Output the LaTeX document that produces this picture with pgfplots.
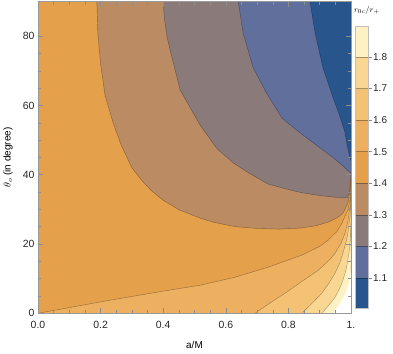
\documentclass[border=0pt]{standalone}
\usepackage{pgfplots}
\pgfplotsset{compat=1.18}
\usepackage{pgfplotstable}
\usepackage{fontspec}
\setmainfont{Liberation Sans}

% contour fill colours, lowest level first
\definecolor{lvA}{RGB}{40,86,140}
\definecolor{lvB}{RGB}{96,111,155}
\definecolor{lvC}{RGB}{138,122,122}
\definecolor{lvD}{RGB}{187,140,100}
\definecolor{lvE}{RGB}{229,160,76}
\definecolor{lvF}{RGB}{237,175,96}
\definecolor{lvG}{RGB}{244,194,117}
\definecolor{lvH}{RGB}{249,214,145}
\definecolor{lvI}{RGB}{254,242,196}

% regions below a level (closed with the top right corner)
\pgfplotstableread{
a th
0.188 90
0.191 81
0.200 72
0.214 63
0.240 55
0.266 48.5
0.300 42.0
0.330 38.5
0.360 35.6
0.400 32.6
0.450 29.9
0.520 27.4
0.560 26.3
0.630 25.0
0.700 24.5
0.770 24.3
0.840 24.6
0.890 25.3
0.930 26.4
0.960 27.8
0.975 29.0
0.990 31.8
0.997 35.5
1.000 39
1.000 90
}\below

\pgfplotstableread{
a th
0.400 90
0.404 85
0.412 80
0.422 76
0.454 64.5
0.518 54.3
0.572 47.5
0.623 43.5
0.668 40.8
0.735 37.3
0.805 35.6
0.843 34.8
0.900 34.0
0.949 33.5
0.975 33.3
0.990 33.5
0.996 36
1.000 40
1.000 90
}\belowC

\pgfplotstableread{
a th
0.640 90
0.655 81
0.687 71
0.730 63.6
0.780 56.3
0.830 52.6
0.875 49.5
0.942 45.0
0.975 42.5
0.990 41.2
1.000 40.5
1.000 90
}\belowB

\pgfplotstableread{
a th
0.869 90
0.885 81
0.910 71
0.942 62.4
0.962 57.5
0.980 52.5
0.990 47.5
0.997 45
1.000 44
1.000 90
}\belowA

% regions above a level (closed with the bottom right corner)
\pgfplotstableread{
a th
0.000 0
0.200 3.3
0.400 6.4
0.518 8.1
0.629 10.4
0.735 13.3
0.843 16.8
0.900 19.3
0.927 21.1
0.955 23.6
0.971 26.0
0.990 29.8
0.997 33
1.000 38
1.000 0
}\aboveF

\pgfplotstableread{
a th
0.693 0
0.740 2.9
0.789 5.8
0.840 9.0
0.895 12.4
0.930 15.3
0.949 17.3
0.968 20.2
0.981 23.1
0.990 26.5
0.997 31
1.000 37.5
1.000 0
}\aboveG

\pgfplotstableread{
a th
0.843 0
0.877 3.0
0.907 5.8
0.930 8.8
0.949 11.6
0.964 14.5
0.974 17.3
0.984 20.5
0.990 23
0.997 28
1.000 36
1.000 0
}\aboveH

\pgfplotstableread{
a th
0.907 0
0.930 2.4
0.949 4.6
0.964 7.2
0.974 9.5
0.984 12.5
0.990 15.3
0.996 19
1.000 26
1.000 0
}\aboveI

% blank corner (outside the plotted range)
\pgfplotstableread{
a th
0.942 0
0.958 2.0
0.971 3.8
0.982 5.6
0.990 7.5
0.996 9.8
1.000 12.4
1.000 0
}\blank

\pgfplotsset{cline/.style={draw=black, draw opacity=0.33, line width=0.45bp}}

\begin{document}
\begin{tikzpicture}
\path[use as bounding box] (-38bp,-40.7bp) rectangle (355bp,313.3bp);
\begin{axis}[
    scale only axis,
    width=313bp, height=311.8bp,
    xmin=0, xmax=1, ymin=0, ymax=90,
    xtick={0,0.2,0.4,0.6,0.8,1},
    xticklabels={0.0,0.2,0.4,0.6,0.8,1.},
    ytick={0,20,40,60,80},
    minor x tick num=3, minor y tick num=3,
    tick align=inside,
    major tick length=5bp, minor tick length=3bp,
    every tick/.style={black!45, line width=0.5bp},
    axis line style={black!40, line width=0.6bp},
    axis on top,
    no markers,
    /pgf/number format/assume math mode=true,
    tick label style={font=\fontsize{10.5}{12}\selectfont, text=black!85},
    xticklabel style={yshift=-4bp},
    label style={font=\fontsize{10.5}{12}\selectfont, text=black!85},
    xlabel={a/M},
    ylabel={$\theta_o$ (in degree)},
    every axis x label/.style={at={(axis description cs:0.5,0)}, anchor=center, yshift=-31.7bp},
    every axis y label/.style={at={(axis description cs:0,0.5)}, rotate=90, anchor=center, yshift=30bp},
]
\addplot[fill=lvE, draw=none] coordinates {(0,0) (1,0) (1,90) (0,90)};
\addplot[fill=lvD, cline] table {\below};
\addplot[fill=lvC, cline] table {\belowC};
\addplot[fill=lvB, cline] table {\belowB};
\addplot[fill=lvA, cline] table {\belowA};
\addplot[fill=lvF, cline] table {\aboveF};
\addplot[fill=lvG, cline] table {\aboveG};
\addplot[fill=lvH, cline] table {\aboveH};
\addplot[fill=lvI, cline] table {\aboveI};
\addplot[fill=white, draw=none] table {\blank};
\end{axis}

% colour bar
\begin{axis}[
    at={(317bp,5.3bp)}, anchor=south west,
    scale only axis,
    width=13.5bp, height=282bp,
    xmin=0, xmax=1, ymin=1.005, ymax=1.898,
    xtick=\empty,
    ytick={1.1,1.2,1.3,1.4,1.5,1.6,1.7,1.8},
    ytick pos=right, yticklabel pos=right,
    tick align=outside, major tick length=3bp,
    every tick/.style={black!45, line width=0.5bp},
    axis line style={black!25, line width=0.5bp},
    axis on top,
    no markers,
    /pgf/number format/assume math mode=true,
    /pgf/number format/fixed, /pgf/number format/precision=1,
    /pgf/number format/fixed zerofill,
    yticklabel style={font=\fontsize{10}{12}\selectfont, text=black!85, inner sep=1.5bp},
    title={$r_{0c}/r_+$},
    title style={at={(0.88,1)}, anchor=south, yshift=5bp, inner sep=0pt, font=\fontsize{8.5}{10}\selectfont},
]
\addplot[fill=lvA, draw=none] coordinates {(0,1.005) (1,1.005) (1,1.1) (0,1.1)};
\addplot[fill=lvB, draw=none] coordinates {(0,1.1) (1,1.1) (1,1.2) (0,1.2)};
\addplot[fill=lvC, draw=none] coordinates {(0,1.2) (1,1.2) (1,1.3) (0,1.3)};
\addplot[fill=lvD, draw=none] coordinates {(0,1.3) (1,1.3) (1,1.4) (0,1.4)};
\addplot[fill=lvE, draw=none] coordinates {(0,1.4) (1,1.4) (1,1.5) (0,1.5)};
\addplot[fill=lvF, draw=none] coordinates {(0,1.5) (1,1.5) (1,1.6) (0,1.6)};
\addplot[fill=lvG, draw=none] coordinates {(0,1.6) (1,1.6) (1,1.7) (0,1.7)};
\addplot[fill=lvH, draw=none] coordinates {(0,1.7) (1,1.7) (1,1.8) (0,1.8)};
\addplot[fill=lvI, draw=none] coordinates {(0,1.8) (1,1.8) (1,1.898) (0,1.898)};
\addplot[cline] coordinates {(0,1.1) (1,1.1)};
\addplot[cline] coordinates {(0,1.2) (1,1.2)};
\addplot[cline] coordinates {(0,1.3) (1,1.3)};
\addplot[cline] coordinates {(0,1.4) (1,1.4)};
\addplot[cline] coordinates {(0,1.5) (1,1.5)};
\addplot[cline] coordinates {(0,1.6) (1,1.6)};
\addplot[cline] coordinates {(0,1.7) (1,1.7)};
\addplot[cline] coordinates {(0,1.8) (1,1.8)};
\end{axis}
\end{tikzpicture}
\end{document}
